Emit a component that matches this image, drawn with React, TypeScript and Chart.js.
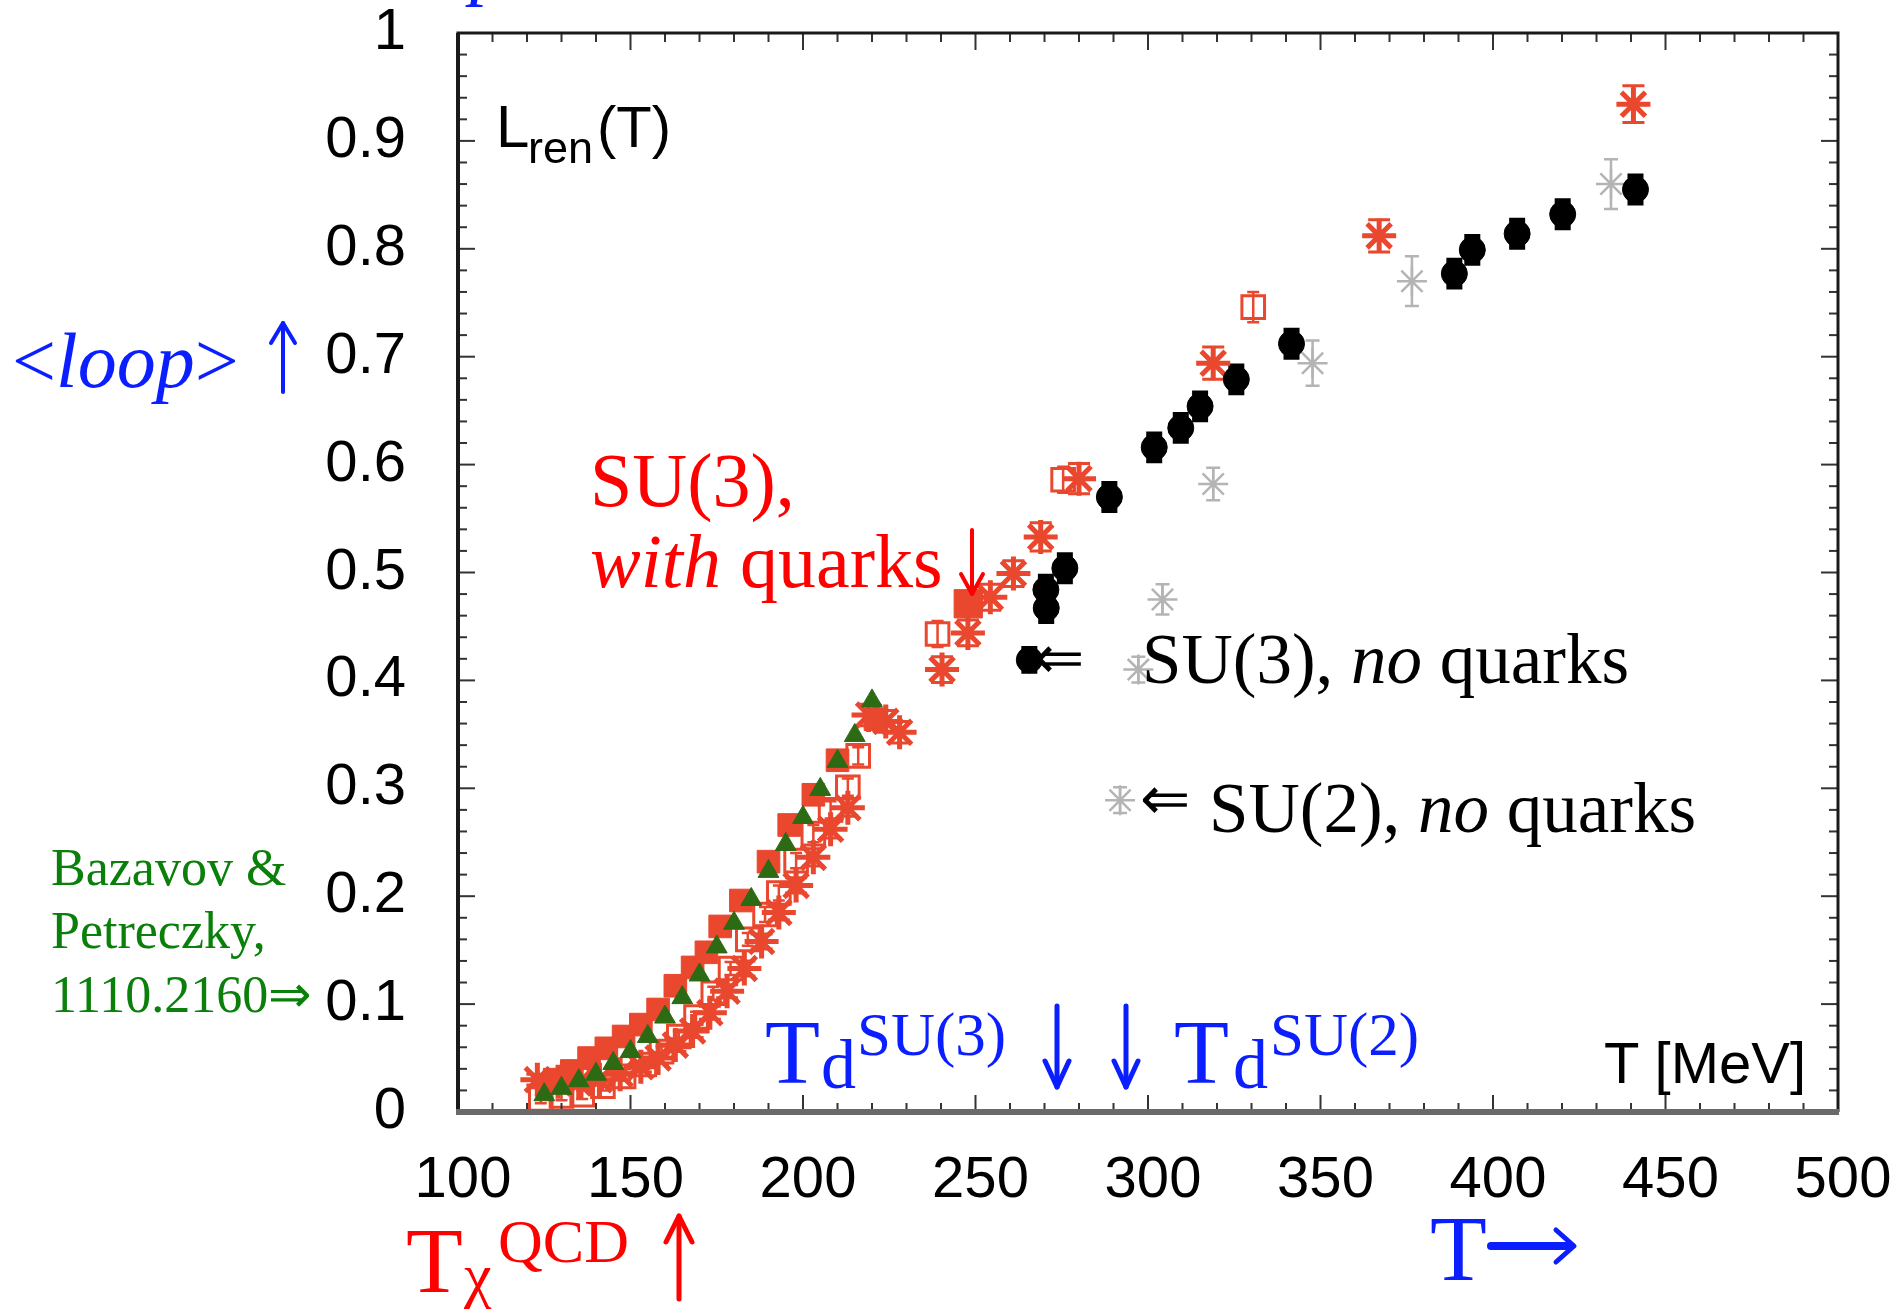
import React, { useEffect, useRef } from "react";
import { Chart, registerables } from "chart.js";

Chart.register(...registerables);

// ---------- axis tick labels ----------
const xTickValues = [100, 150, 200, 250, 300, 350, 400, 450, 500];
const xTickLabels = ["100", "150", "200", "250", "300", "350", "400", "450", "500"];
const yTickValues = [0, 0.1, 0.2, 0.3, 0.4, 0.5, 0.6, 0.7, 0.8, 0.9, 1];
const yTickLabels = ["0", "0.1", "0.2", "0.3", "0.4", "0.5", "0.6", "0.7", "0.8", "0.9", "1"];

// ---------- Bazavov & Petreczky (green triangles) ----------
const bazavovT = [125, 130, 135, 140, 145, 150, 155, 160, 165, 170, 175, 180, 185, 190, 195, 200, 205, 210, 215, 220];
const bazavovL = [0.016, 0.022, 0.029, 0.035, 0.045, 0.056, 0.070, 0.088, 0.106, 0.127, 0.153, 0.175, 0.197, 0.223, 0.248, 0.273, 0.299, 0.325, 0.349, 0.381];

// ---------- SU(3) with quarks: filled red squares ----------
const quarksFilledT = [128, 133, 138, 143, 148, 153, 158, 163, 168, 172, 176, 182, 190, 196, 203, 210, 221, 247.9];
const quarksFilledL = [0.030, 0.038, 0.050, 0.059, 0.070, 0.081, 0.095, 0.117, 0.134, 0.148, 0.172, 0.196, 0.232, 0.266, 0.294, 0.326, 0.364, 0.471];

// ---------- SU(3) with quarks: open red squares ----------
const quarksOpenT = [124, 130, 136, 142, 148, 154, 159, 164, 169, 174, 179, 184, 189, 193, 198, 203, 208, 213, 216, 239.0, 275.4, 330.5];
const quarksOpenL = [0.012, 0.015, 0.016, 0.024, 0.033, 0.044, 0.056, 0.070, 0.088, 0.110, 0.133, 0.160, 0.183, 0.203, 0.233, 0.258, 0.280, 0.301, 0.330, 0.443, 0.586, 0.746];
const quarksOpenErr = [0.004, 0.004, 0.004, 0.004, 0.004, 0.004, 0.005, 0.005, 0.005, 0.006, 0.006, 0.006, 0.007, 0.007, 0.007, 0.008, 0.008, 0.008, 0.008, 0.012, 0.012, 0.014];

// ---------- SU(3) with quarks: red asterisks ----------
const quarksStarT = [123, 129, 135, 141, 147, 153, 158, 163, 168, 173, 178, 183, 188, 193, 198, 203, 208, 213, 219, 224, 228, 240.3, 247.8, 254.3, 261.0, 268.9, 280.0, 318.9, 367.0, 440.7];
const quarksStarL = [0.030, 0.028, 0.027, 0.030, 0.035, 0.042, 0.050, 0.062, 0.075, 0.092, 0.112, 0.133, 0.158, 0.185, 0.210, 0.236, 0.262, 0.282, 0.368, 0.362, 0.352, 0.410, 0.444, 0.477, 0.499, 0.533, 0.587, 0.694, 0.812, 0.934];
const quarksStarErr = [0.005, 0.005, 0.005, 0.005, 0.005, 0.005, 0.005, 0.006, 0.006, 0.006, 0.006, 0.007, 0.007, 0.007, 0.007, 0.008, 0.008, 0.008, 0.010, 0.010, 0.010, 0.012, 0.012, 0.012, 0.012, 0.013, 0.014, 0.015, 0.015, 0.017];

// ---------- SU(3), no quarks (black) ----------
const su3T = [265.6, 270.5, 270.4, 275.9, 288.8, 301.8, 309.5, 315.1, 325.6, 341.6, 388.8, 394.0, 407.0, 420.2, 441.3];
const su3L = [0.419, 0.467, 0.484, 0.504, 0.570, 0.616, 0.634, 0.654, 0.679, 0.712, 0.777, 0.799, 0.814, 0.832, 0.855];
const su3Err = [0.010, 0.012, 0.012, 0.012, 0.012, 0.012, 0.012, 0.012, 0.012, 0.012, 0.012, 0.012, 0.012, 0.012, 0.012];

// ---------- SU(2), no quarks (grey) ----------
const su2T = [291.9, 297.2, 304.2, 318.9, 347.7, 376.5, 434.2];
const su2L = [0.289, 0.410, 0.475, 0.582, 0.694, 0.770, 0.860];
const su2Err = [0.012, 0.012, 0.014, 0.015, 0.021, 0.023, 0.023];

const RED = "#e9472e";
const GREEN = "#2d6a14";
const GREY = "#b4b4b4";

const toPts = (xs: number[], ys: number[]) => xs.map((x, i) => ({ x, y: ys[i] }));

const errorBarPlugin = {
  id: "errorBars",
  beforeDatasetsDraw(chart: any) {
    const ctx = chart.ctx;
    const yS = chart.scales.y;
    chart.data.datasets.forEach((ds: any, di: number) => {
      const errs = ds.errY;
      if (!errs) return;
      const meta = chart.getDatasetMeta(di);
      ctx.save();
      ctx.strokeStyle = ds.errColor;
      ctx.lineWidth = ds.errWidth;
      meta.data.forEach((pt: any, i: number) => {
        const e = errs[i];
        if (!e) return;
        const v = ds.data[i].y;
        const y1 = yS.getPixelForValue(v + e);
        const y2 = yS.getPixelForValue(v - e);
        const c = ds.capHalf;
        ctx.beginPath();
        ctx.moveTo(pt.x, y1);
        ctx.lineTo(pt.x, y2);
        ctx.moveTo(pt.x - c, y1);
        ctx.lineTo(pt.x + c, y1);
        ctx.moveTo(pt.x - c, y2);
        ctx.lineTo(pt.x + c, y2);
        ctx.stroke();
      });
      ctx.restore();
    });
  },
};

const framePlugin = {
  id: "frameTicks",
  afterDatasetsDraw(chart: any) {
    const { ctx, chartArea: a } = chart;
    const xS = chart.scales.x;
    const yS = chart.scales.y;
    ctx.save();
    ctx.strokeStyle = "#333";
    ctx.lineWidth = 2;
    const seg = (x1: number, y1: number, x2: number, y2: number) => {
      ctx.beginPath();
      ctx.moveTo(x1, y1);
      ctx.lineTo(x2, y2);
      ctx.stroke();
    };
    for (let i = 0; i <= 40; i++) {
      const px = xS.getPixelForValue(xS.min + i * 10);
      const len = i % 5 === 0 ? 17 : 9;
      seg(px, a.bottom, px, a.bottom - len);
      seg(px, a.top, px, a.top + len);
    }
    for (let i = 0; i <= 50; i++) {
      const py = yS.getPixelForValue(yS.min + i * 0.02);
      const len = i % 5 === 0 ? 17 : 9;
      seg(a.left, py, a.left + len, py);
      seg(a.right, py, a.right - len, py);
    }
    ctx.strokeStyle = "#1a1a1a";
    ctx.lineWidth = 3;
    ctx.beginPath();
    ctx.moveTo(a.left, a.bottom);
    ctx.lineTo(a.left, a.top);
    ctx.lineTo(a.right, a.top);
    ctx.lineTo(a.right, a.bottom);
    ctx.stroke();
    ctx.lineWidth = 4;
    seg(a.left, a.bottom, a.left, a.top);
    ctx.strokeStyle = "#6a6a6a";
    ctx.lineWidth = 6;
    seg(a.left - 2, a.bottom, a.right + 1, a.bottom);
    ctx.restore();
  },
};

const tickFont = { family: "'Liberation Sans', Arial, Helvetica, sans-serif", size: 58 };

function VArrow({ x, tail, tip, color, w = 4, head = 11, hl = 22 }: any) {
  const dir = tip > tail ? -1 : 1;
  return (
    <g stroke={color} strokeWidth={w} fill="none" strokeLinecap="round" strokeLinejoin="round">
      <line x1={x} y1={tail} x2={x} y2={tip} />
      <polyline points={`${x - head},${tip + dir * hl} ${x},${tip} ${x + head},${tip + dir * hl}`} />
    </g>
  );
}

export default function App() {
  const ref = useRef<HTMLCanvasElement | null>(null);

  useEffect(() => {
    if (!ref.current) return;
    const chart = new Chart(ref.current, {
      type: "scatter",
      data: {
        datasets: [
          {
            label: "Bazavov & Petreczky",
            data: toPts(bazavovT, bazavovL),
            pointStyle: "triangle",
            pointRadius: 12,
            backgroundColor: GREEN,
            borderColor: GREEN,
            borderWidth: 1,
          },
          {
            label: "SU(3), no quarks",
            data: toPts(su3T, su3L),
            pointStyle: "circle",
            pointRadius: 13,
            backgroundColor: "#000",
            borderColor: "#000",
            borderWidth: 1,
            errY: su3Err,
            errColor: "#000",
            errWidth: 6,
            capHalf: 8,
          } as any,
          {
            label: "SU(2), no quarks",
            data: toPts(su2T, su2L),
            pointStyle: "star",
            pointRadius: 15,
            backgroundColor: GREY,
            borderColor: GREY,
            borderWidth: 2.5,
            errY: su2Err,
            errColor: GREY,
            errWidth: 2.5,
            capHalf: 7,
          } as any,
          {
            label: "SU(3) with quarks (filled squares)",
            data: toPts(quarksFilledT, quarksFilledL),
            pointStyle: "rect",
            pointRadius: quarksFilledT.map((t) => (t > 240 ? 20 : 16)),
            backgroundColor: RED,
            borderColor: RED,
            borderWidth: 1,
          },
          {
            label: "SU(3) with quarks (open squares)",
            data: toPts(quarksOpenT, quarksOpenL),
            pointStyle: "rect",
            pointRadius: 16,
            backgroundColor: "rgba(255,255,255,0)",
            borderColor: RED,
            borderWidth: 3,
            errY: quarksOpenErr,
            errColor: RED,
            errWidth: 2.5,
            capHalf: 6,
          } as any,
          {
            label: "SU(3) with quarks (asterisks)",
            data: toPts(quarksStarT, quarksStarL),
            pointStyle: "star",
            pointRadius: 17,
            backgroundColor: RED,
            borderColor: RED,
            borderWidth: 5,
            errY: quarksStarErr,
            errColor: RED,
            errWidth: 3,
            capHalf: 11,
          } as any,
        ],
      },
      options: {
        responsive: false,
        animation: false,
        events: [],
        layout: { padding: { left: 0, top: 33, right: 61, bottom: 0 } },
        plugins: { legend: { display: false }, tooltip: { enabled: false } },
        scales: {
          x: {
            type: "linear",
            min: 100,
            max: 500,
            grid: { display: false },
            border: { display: false },
            ticks: {
              font: tickFont,
              color: "#000",
              padding: 26,
              labelOffset: 5,
              maxRotation: 0,
              callback: (v: any) => xTickLabels[xTickValues.indexOf(v)],
            },
            afterBuildTicks: (s: any) => {
              s.ticks = xTickValues.map((value) => ({ value }));
            },
            afterFit: (s: any) => {
              s.height = 197;
              s.paddingLeft = 0;
              s.paddingRight = 0;
              s.paddingTop = 0;
              s.paddingBottom = 0;
            },
          },
          y: {
            type: "linear",
            min: 0,
            max: 1,
            grid: { display: false },
            border: { display: false },
            ticks: {
              font: tickFont,
              color: "#000",
              padding: 44,
              callback: (v: any) => yTickLabels[yTickValues.indexOf(v)],
            },
            afterBuildTicks: (s: any) => {
              s.ticks = yTickValues.map((value) => ({ value }));
            },
            afterFit: (s: any) => {
              s.width = 458;
              s.paddingLeft = 0;
              s.paddingRight = 0;
              s.paddingTop = 0;
              s.paddingBottom = 0;
            },
          },
        },
      },
      plugins: [errorBarPlugin, framePlugin],
    } as any);
    return () => chart.destroy();
  }, []);

  const serif = "'Liberation Serif', 'Times New Roman', Times, serif";
  const sans = "'Liberation Sans', Arial, Helvetica, sans-serif";
  const BLUE = "#0a1eff";
  const TRED = "#ff0000";
  const TGREEN = "#0a800a";

  return (
    <div style={{ position: "fixed", left: 0, top: 0, width: 1899, height: 1309, background: "#fff", overflow: "hidden" }}>
      <canvas ref={ref} width={1899} height={1309} style={{ position: "absolute", left: 0, top: 0, width: 1899, height: 1309 }} />
      <svg width={1899} height={1309} style={{ position: "absolute", left: 0, top: 0, pointerEvents: "none" }}>
        {/* clipped blue text at very top */}
        <text x={470} y={-10} fontFamily={serif} fontSize={78} fill={BLUE} fontStyle="italic">p</text>

        {/* inside plot labels */}
        <text x={496} y={147} fontFamily={sans} fontSize={60} fill="#000">L</text>
        <text x={528} y={163} fontFamily={sans} fontSize={45} fill="#000">ren</text>
        <text x={597} y={147} fontFamily={sans} fontSize={58} fill="#000">(T)</text>
        <text x={1806} y={1083} fontFamily={sans} fontSize={58} fill="#000" textAnchor="end">T [MeV]</text>

        {/* <loop> ↑ */}
        <text x={12} y={387} fontFamily={serif} fontSize={78} fill={BLUE}>
          {"<"}<tspan fontStyle="italic">loop</tspan>{">"}
        </text>
        <VArrow x={283} tail={392} tip={323} color={BLUE} w={4} head={12} hl={20} />

        {/* SU(3), with quarks ↓ */}
        <text x={590} y={506} fontFamily={serif} fontSize={76} fill={TRED}>SU(3),</text>
        <text x={590} y={587} fontFamily={serif} fontSize={76} fill={TRED}>
          <tspan fontStyle="italic">with</tspan> quarks
        </text>
        <VArrow x={972} tail={530} tip={594} color={TRED} w={4} head={11} hl={20} />

        {/* SU(3), no quarks */}
        <text x={1034} y={678} fontFamily={serif} fontSize={60} fill="#000">⇐</text>
        <text x={1142} y={683} fontFamily={serif} fontSize={71} fill="#000">
          SU(3), <tspan fontStyle="italic">no</tspan> quarks
        </text>

        {/* SU(2), no quarks */}
        <text x={1140} y={819} fontFamily={serif} fontSize={60} fill="#000">⇐</text>
        <text x={1209} y={832} fontFamily={serif} fontSize={71} fill="#000">
          SU(2), <tspan fontStyle="italic">no</tspan> quarks
        </text>

        {/* Bazavov & Petreczky */}
        <text x={51} y={885} fontFamily={serif} fontSize={52} fill={TGREEN}>Bazavov &amp;</text>
        <text x={51} y={948} fontFamily={serif} fontSize={52} fill={TGREEN}>Petreczky,</text>
        <text x={51} y={1012} fontFamily={serif} fontSize={52} fill={TGREEN}>1110.2160⇒</text>

        {/* Td SU(3) ↓ ↓ Td SU(2) */}
        <text x={765} y={1083} fontFamily={serif} fontSize={90} fill={BLUE}>T</text>
        <text x={821} y={1088} fontFamily={serif} fontSize={70} fill={BLUE}>d</text>
        <text x={857} y={1055} fontFamily={serif} fontSize={61} fill={BLUE}>SU(3)</text>
        <VArrow x={1057} tail={1006} tip={1087} color={BLUE} w={5} head={12} hl={26} />
        <VArrow x={1126} tail={1006} tip={1087} color={BLUE} w={5} head={12} hl={26} />
        <text x={1174} y={1083} fontFamily={serif} fontSize={90} fill={BLUE}>T</text>
        <text x={1233} y={1088} fontFamily={serif} fontSize={70} fill={BLUE}>d</text>
        <text x={1270} y={1055} fontFamily={serif} fontSize={61} fill={BLUE}>SU(2)</text>

        {/* T_chi^QCD ↑ */}
        <text x={406} y={1292} fontFamily={serif} fontSize={93} fill={TRED}>T</text>
        <text x={464} y={1296} fontFamily={serif} fontSize={62} fill={TRED}>χ</text>
        <text x={498} y={1262} fontFamily={serif} fontSize={62} fill={TRED}>QCD</text>
        <VArrow x={679} tail={1299} tip={1216} color={TRED} w={5} head={13} hl={26} />

        {/* T → */}
        <text x={1430} y={1280} fontFamily={serif} fontSize={93} fill={BLUE}>T</text>
        <g stroke={BLUE} fill="none" strokeLinecap="round" strokeLinejoin="round">
          <line x1={1491} y1={1246} x2={1570} y2={1246} strokeWidth={8} />
          <polyline points="1556,1230 1574,1246 1556,1262" strokeWidth={5} />
        </g>
      </svg>
    </div>
  );
}
